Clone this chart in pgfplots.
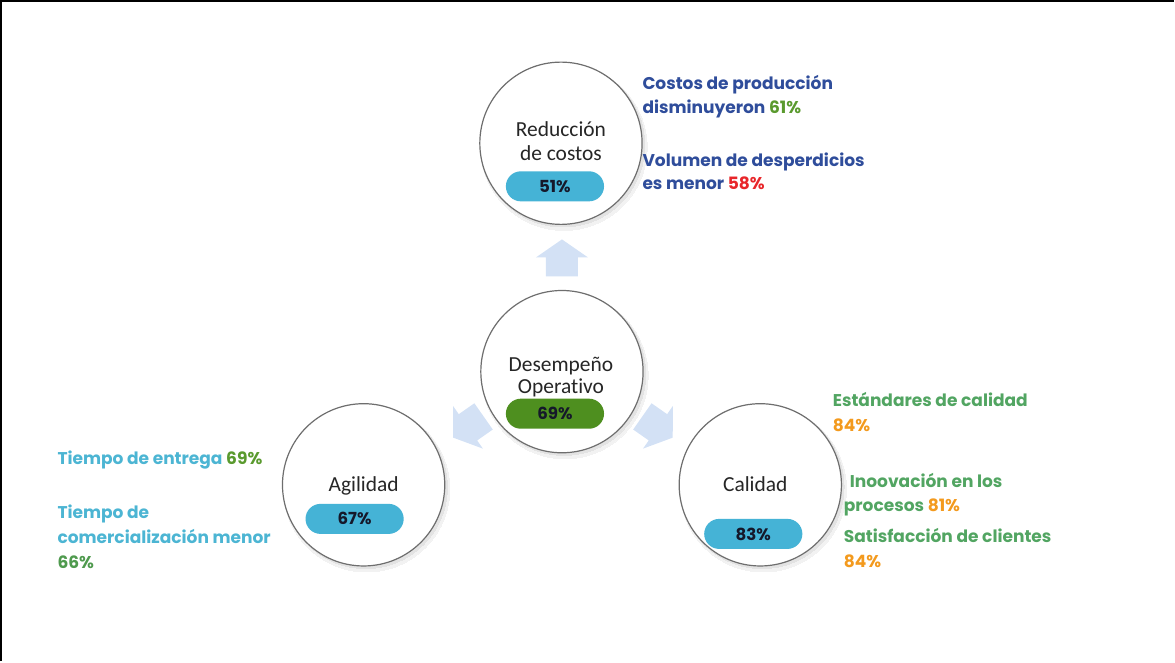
\documentclass[border=0pt]{standalone}
\usepackage{pgfplots}
\pgfplotsset{compat=1.18}
\usepackage{fontspec}
\setmainfont{Carlito}[Ligatures=NoCommon]
\newfontfamily\pop{Poppins}
\definecolor{dblue}{HTML}{2F4D9B}
\definecolor{tgreen}{HTML}{5A9A2E}
\definecolor{tred}{HTML}{E8262A}
\definecolor{tcyan}{HTML}{4CB5D3}
\definecolor{lgreen}{HTML}{4F9A4E}
\definecolor{rgreen}{HTML}{52A562}
\definecolor{torange}{HTML}{F39A1E}
\definecolor{pcyan}{HTML}{45B3D6}
\definecolor{pgreen}{HTML}{4E8F1F}
\definecolor{ring}{HTML}{6E6E6E}
\definecolor{arrowc}{HTML}{D3E1F5}
\definecolor{ptext}{HTML}{15182A}
\begin{document}
\begin{tikzpicture}
\begin{axis}[
  width=587.5pt, height=332pt, scale only axis,
  xmin=0, xmax=1175, ymin=0, ymax=664, y dir=reverse,
  hide axis, clip=false, set layers=standard,
]
% frame
\draw[black, line width=1pt] (axis cs:4,664) -- (axis cs:4,5) -- (axis cs:1175,5);
% circle shadows
\addplot[black!5, only marks, mark=*, mark size=41.5pt, mark options={draw=black!5, fill=black!5, line width=0pt}]
  coordinates {(566,151) (567,379) (369,492) (765,492)};
\addplot[black!11, only marks, mark=*, mark size=40.8pt, mark options={draw=black!11, fill=black!11, line width=0pt}]
  coordinates {(565,149) (566,377) (368,490) (764,490)};
% circles
\addplot[ring, only marks, mark=*, mark size=40.5pt, mark options={draw=ring, fill=white, line width=0.6pt}]
  coordinates {(563,147) (564,375) (366,488) (762,488)};
\begin{pgfonlayer}{axis foreground}
% arrows
\foreach \cx/\cy/\rot in {564/262/0, 471/430/125, 659/430/-125}{
  \edef\temp{\noexpand\fill[arrowc, shift={(axis cs:\cx,\cy)}, rotate=\rot]
    (0,9.5pt) -- (13pt,0.5pt) -- (8pt,0.5pt) -- (8pt,-9pt) -- (-8pt,-9pt) -- (-8pt,0.5pt) -- (-13pt,0.5pt) -- cycle;}
  \temp
}
% circle labels
\begin{scope}[every node/.style={text=black!85, font=\fontsize{10.7}{12}\selectfont, anchor=base}]
\node at (axis cs:563,140) {Reducción};
\node at (axis cs:563,164) {de costos};
\node at (axis cs:563,375) {Desempeño};
\node at (axis cs:563,397) {Operativo};
\node at (axis cs:366,495) {Agilidad};
\node at (axis cs:757,495) {Calidad};
\end{scope}
% pills
\begin{scope}[every node/.style={rounded corners=7.5pt, minimum width=49pt, minimum height=15pt, inner sep=0pt, text=ptext, font=\pop\bfseries\fontsize{8.3}{10}\selectfont}]
\node[fill=pcyan] at (axis cs:557,190) {51\%};
\node[fill=pgreen] at (axis cs:557,417) {69\%};
\node[fill=pcyan] at (axis cs:357,522) {67\%};
\node[fill=pcyan] at (axis cs:755,537) {83\%};
\end{scope}
% side texts
\begin{scope}[every node/.style={anchor=base west, inner sep=0pt, font=\pop\bfseries\fontsize{8.5}{10}\selectfont}]
\node[text=dblue] at (axis cs:644,93) {Costos de producción};
\node[text=dblue] at (axis cs:644,117) {disminuyeron \textcolor{tgreen}{61\%}};
\node[text=dblue] at (axis cs:644,170) {Volumen de desperdicios};
\node[text=dblue] at (axis cs:644,193) {es menor \textcolor{tred}{58\%}};
\node[text=tcyan] at (axis cs:60,468) {Tiempo de entrega \textcolor{tgreen}{69\%}};
\node[text=tcyan] at (axis cs:60,522) {Tiempo de};
\node[text=tcyan] at (axis cs:60,547) {comercialización menor};
\node[text=lgreen] at (axis cs:60,572) {66\%};
\node[text=rgreen] at (axis cs:834,410) {Estándares de calidad};
\node[text=torange] at (axis cs:834,435) {84\%};
\node[text=rgreen] at (axis cs:851,491) {Inoovación en los};
\node[text=rgreen] at (axis cs:845,515) {procesos \textcolor{torange}{81\%}};
\node[text=rgreen] at (axis cs:845,546) {Satisfacción de clientes};
\node[text=torange] at (axis cs:845,571) {84\%};
\end{scope}
\end{pgfonlayer}
\end{axis}
\end{tikzpicture}
\end{document}
